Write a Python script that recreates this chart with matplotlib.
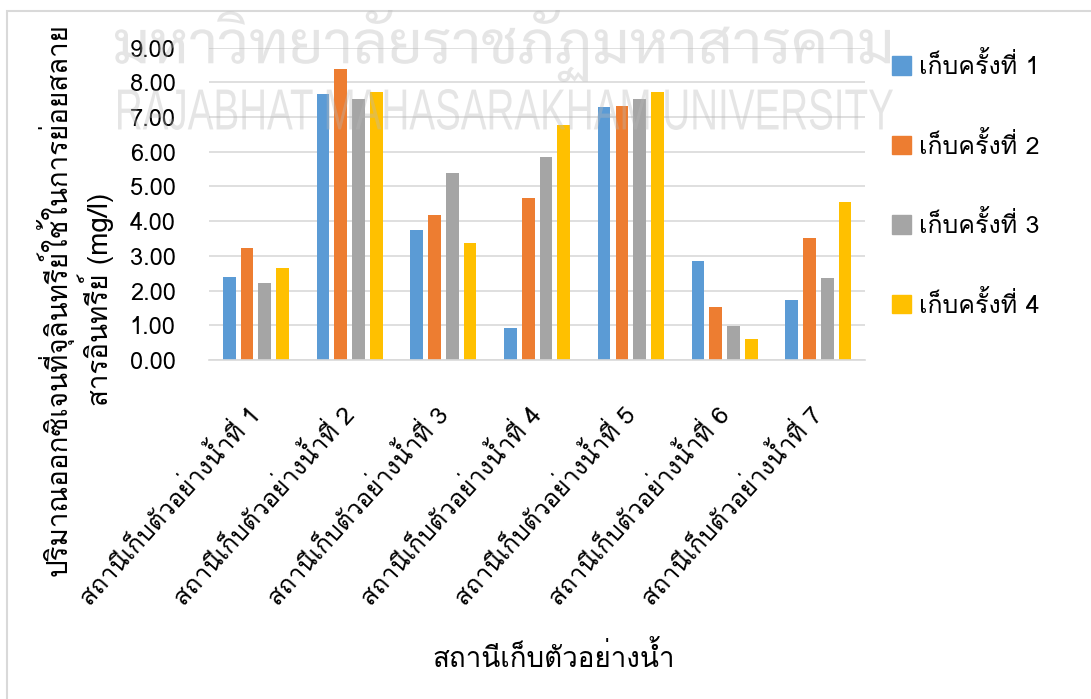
import matplotlib
matplotlib.use("Agg")
import matplotlib.pyplot as plt
import numpy as np
from matplotlib.patches import Rectangle, Patch, PathPatch
from matplotlib.textpath import TextPath
from matplotlib.font_manager import FontProperties
from matplotlib.transforms import Affine2D
from matplotlib.ticker import FormatStrFormatter

# Loma stacks the Thai tone marks properly without a shaping engine
plt.rcParams["font.family"] = ["Loma", "DejaVu Sans"]

stations = [f"สถานีเก็บตัวอย่างน้ำที่ {i}" for i in range(1, 8)]
series_names = ["เก็บครั้งที่ 1", "เก็บครั้งที่ 2", "เก็บครั้งที่ 3", "เก็บครั้งที่ 4"]
round1 = [2.40, 7.67, 3.74, 0.92, 7.28, 2.84, 1.74]
round2 = [3.22, 8.39, 4.17, 4.66, 7.32, 1.52, 3.51]
round3 = [2.21, 7.53, 5.40, 5.84, 7.51, 0.98, 2.37]
round4 = [2.66, 7.72, 3.36, 6.76, 7.72, 0.60, 4.55]
colors = ["#5B9BD5", "#ED7D31", "#A5A5A5", "#FFC000"]

W, H = 1091, 699
fig = plt.figure(figsize=(W / 100, H / 100), dpi=100)
ax = fig.add_axes([0.1916, 0.485, 0.6014, 0.4468])

# outer chart border (light gray)
fig.patches.append(Rectangle((0.0064, -0.05), 1.1, 1.034, transform=fig.transFigure,
                             fill=False, edgecolor="#d9d9d9", linewidth=1.5))

x = np.arange(len(stations))
width = 0.135
offsets = [-0.285, -0.095, 0.095, 0.285]
for vals, off, c in zip([round1, round2, round3, round4], offsets, colors):
    ax.bar(x + off, vals, width, color=c, zorder=2)

ax.set_xlim(-0.5, len(stations) - 0.5)
ax.set_ylim(0, 9)
ax.set_yticks(np.arange(0, 10, 1))
ax.yaxis.set_major_formatter(FormatStrFormatter("%.2f"))
ax.grid(axis="y", color="#d9d9d9", linewidth=1.2, zorder=0)
for s in ["top", "right", "left"]:
    ax.spines[s].set_visible(False)
ax.spines["bottom"].set_color("#d9d9d9")
ax.spines["bottom"].set_linewidth(1.2)
ax.tick_params(axis="y", length=0, labelsize=17, pad=24)
ax.tick_params(axis="x", length=0, pad=36)
ax.set_xticks(x)
ax.set_xticklabels(stations, rotation=48, ha="right", va="center",
                   rotation_mode="anchor", fontsize=18)

fig.text(0.050, 0.572, "ปริมาณออกซิเจนที่จุลินทรีย์ใช้ในการย่อยสลาย",
         rotation=90, ha="center", va="center", fontsize=20)
fig.text(0.088, 0.572, "สารอินทรีย์ (mg/l)",
         rotation=90, ha="center", va="center", fontsize=20)
fig.text(0.507, 0.06, "สถานีเก็บตัวอย่างน้ำ", ha="center", va="center", fontsize=20)

handles = [Patch(color=c) for c in colors]
fig.legend(handles, series_names, loc="upper left", bbox_to_anchor=(0.806, 0.943),
           frameon=False, fontsize=18, handlelength=0.75, handleheight=0.75,
           handletextpad=0.35, labelspacing=2.1, borderpad=0)


def watermark(text, family, box):
    # stretch the text outline into a pixel box (x0, top, x1, bottom)
    tp = TextPath((0, 0), text, size=100, prop=FontProperties(family=family))
    ext = tp.get_extents()
    x0, top, x1, bottom = box
    tr = (Affine2D().translate(-ext.x0, -ext.y0)
          .scale((x1 - x0) / ext.width, (bottom - top) / ext.height)
          .translate(x0, H - bottom))
    fig.add_artist(PathPatch(tp, transform=tr, facecolor="#b8b8b8", edgecolor="none",
                             alpha=0.36, zorder=10))


watermark("มหาวิทยาลัยราชภัฏมหาสารคาม", ["Sarabun", "Loma"], (115, 10, 890, 82))
watermark("RAJABHAT MAHASARAKHAM UNIVERSITY", ["Liberation Sans"], (118, 89, 893, 130))

fig.savefig("out.png")
